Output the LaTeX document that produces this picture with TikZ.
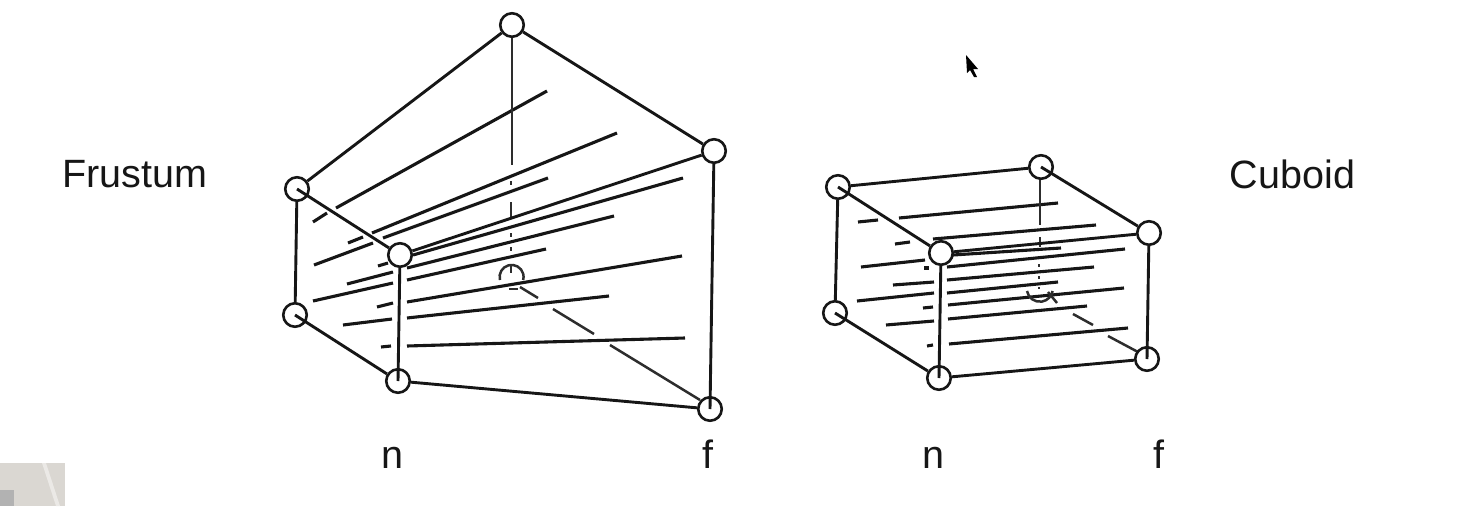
\documentclass[tikz,border=0pt]{standalone}
\usepackage{fontspec}
\setmainfont{Liberation Sans}
\definecolor{ink}{HTML}{161616}
\definecolor{corner}{HTML}{DAD7D2}
\tikzset{
  vertexdot/.style={circle,draw=ink,fill=white,line width=2.6pt,minimum size=23.5pt,inner sep=0pt},
  edgeline/.style={draw=ink,line width=2.9pt},
  hatch/.style={draw=ink,line width=3.1pt},
  hidden/.style={draw=ink!90,line width=2.5pt},
  label/.style={text=ink,inner sep=0pt,font=\fontsize{39.5}{40}\selectfont}
}
\begin{document}
\begin{tikzpicture}[x=1pt,y=-1pt]
\useasboundingbox (0,0) rectangle (1482,506);
% screen-recording remnants
\fill[corner] (0,463) rectangle (65,506);
\fill[white!45!corner] (42,463) -- (46,463) -- (60,506) -- (56,506) -- cycle;
\fill[black!30] (0,490) rectangle (14,506);
\fill[black] (966,55) -- (978,69) -- (973,69) -- (977,77) -- (974,77) -- (970,70) -- (967,73) -- cycle;

% ---------- Frustum ----------
\foreach \a/\b/\c/\d in {
 313/222/327/213, 336/208/547/91,
 348/243/363/237, 372/233/617/133,
 314/265/373/243, 383/238/548/178,
 413/255/683/178,
 378/266/388/263, 407/268/614/216,
 347/284/393/272, 407/280/546/249,
 313/301/393/283, 407/302/682/256,
 377/307/393/303, 407/318/609/296,
 343/325/392/319,
 381/347/391/346, 407/346/685/338}
  \draw[hatch] (\a,\b) -- (\c,\d);
\foreach \a/\b/\c/\d in {
 512/37/512/165, 511/181/511/185, 511/202/511/218, 511/233/511/237, 511/247/511/251, 511/265/511/273,
 509/289/518/289, 520/287/538/298, 553/309/594/334, 610/345/700/400}
  \draw[hidden] (\a,\b) -- (\c,\d);
\draw[hidden] (500,280) arc[start angle=165,end angle=375,radius=12];

\node[vertexdot] (ft)  at (512,25)  {};
\node[vertexdot] (frt) at (714,151) {};
\node[vertexdot] (flt) at (297,189) {};
\node[vertexdot] (fmt) at (400,255) {};
\node[vertexdot] (flb) at (295,315) {};
\node[vertexdot] (fmb) at (398,381) {};
\node[vertexdot] (frb) at (710,409) {};
\draw[edgeline] (flt) -- (ft);
\draw[edgeline] (ft) -- (frt);
\draw[edgeline] (frb.center) -- (frt);
\draw[edgeline] (flt) -- (flb);
\draw[edgeline] (flb.center) -- (fmb);
\draw[edgeline] (fmb) -- (frb);
\draw[edgeline] (flt.center) -- (fmt);
\draw[edgeline] (fmb.center) -- (fmt);
\draw[edgeline] (fmt) -- (frt);

% ---------- Cuboid ----------
\foreach \a/\b/\c/\d in {
 858/222/878/220, 899/218/1058/203,
 895/244/910/242, 933/239/1096/225,
 953/255/1061/248,
 861/267/925/260, 947/267/1125/249, 924/268/929/268,
 893/285/934/282, 947/280/1094/267,
 857/301/934/293, 947/293/1058/282,
 923/308/933/307, 948/305/1124/288,
 886/325/934/321, 948/319/1087/306,
 927/346/933/345, 949/344/1128/328}
  \draw[hatch] (\a,\b) -- (\c,\d);
\foreach \a/\b/\c/\d in {
 1040/178/1040/225, 1040/237/1040/247, 1039/264/1039/267, 1039/276/1039/279, 1039/287/1039/289,
 1048/292/1057/303, 1073/314/1093/325, 1108/336/1138/352}
  \draw[hidden] (\a,\b) -- (\c,\d);
\draw[hidden] (1027,291) arc[start angle=170,end angle=10,radius=13];

\node[vertexdot] (clt) at (838,187)  {};
\node[vertexdot] (cbt) at (1041,167) {};
\node[vertexdot] (crt) at (1149,233) {};
\node[vertexdot] (cmt) at (941,253)  {};
\node[vertexdot] (clb) at (835,313)  {};
\node[vertexdot] (cmb) at (939,378)  {};
\node[vertexdot] (crb) at (1147,359) {};
\draw[edgeline] (clt) -- (cbt);
\draw[edgeline] (cbt.center) -- (crt);
\draw[edgeline] (crb.center) -- (crt);
\draw[edgeline] (clt) -- (clb);
\draw[edgeline] (clb.center) -- (cmb);
\draw[edgeline] (cmb) -- (crb);
\draw[edgeline] (clt.center) -- (cmt);
\draw[edgeline] (cmb.center) -- (cmt);
\draw[edgeline] (cmt) -- (crt);

% ---------- Labels ----------
\node[label] (frustum) at (134.5,174) {Frustum};
\node[label] (cuboid) at (1292.5,174) {Cuboid};
\node[label,anchor=base] (n1) at (392,468) {n};
\node[label,anchor=base] (f1) at (708,468) {f};
\node[label,anchor=base] (n2) at (933,468) {n};
\node[label,anchor=base] (f2) at (1159,468) {f};
\end{tikzpicture}
\end{document}
